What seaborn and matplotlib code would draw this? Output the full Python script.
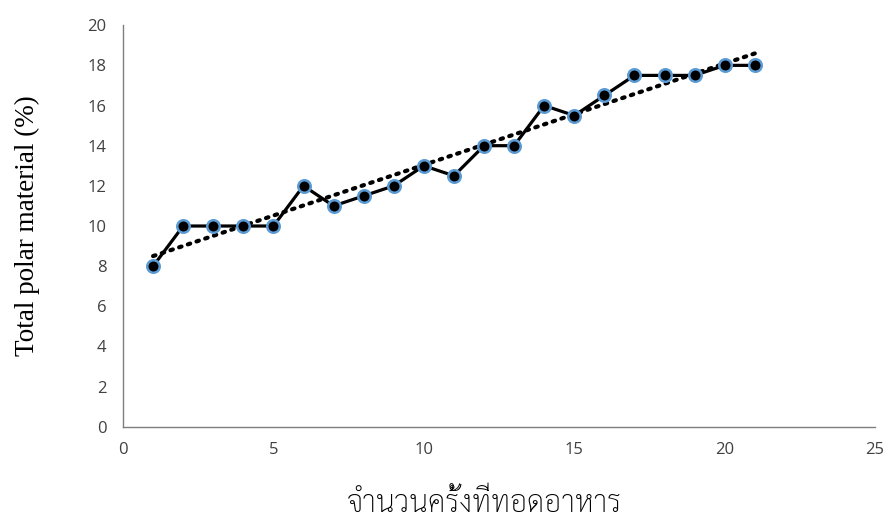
import matplotlib
matplotlib.use("Agg")
import pandas as pd
import matplotlib.pyplot as plt
import seaborn as sns

# frying times vs total polar material
fry_count = [1, 2, 3, 4, 5, 6, 7, 8, 9, 10, 11, 12, 13, 14, 15, 16, 17, 18, 19, 20, 21]
tpm = [8, 10, 10, 10, 10, 12, 11, 11.5, 12, 13, 12.5, 14, 14, 16, 15.5, 16.5, 17.5, 17.5, 17.5, 18, 18]
x_ticks = [0, 5, 10, 15, 20, 25]
y_ticks = [0, 2, 4, 6, 8, 10, 12, 14, 16, 18, 20]

df = pd.DataFrame({"count": fry_count, "tpm": tpm})

sns.set_style("white")
plt.rcParams['font.family'] = ['Open Sans', 'DejaVu Sans']

fig = plt.figure(figsize=(8.88, 5.25), dpi=100)
ax = fig.add_axes([0.1385, 0.187, 0.847, 0.765])

# dotted linear trend
sns.regplot(data=df, x="count", y="tpm", scatter=False, ci=None, ax=ax,
            line_kws={"color": "black", "linestyle": (0, (0.6, 1.6)), "linewidth": 3,
                      "dash_capstyle": "round"})
sns.lineplot(data=df, x="count", y="tpm", ax=ax, color="black", linewidth=2.3,
             marker="o", markersize=9, markerfacecolor="black",
             markeredgecolor="#5b9bd5", markeredgewidth=1.8)

ax.set_xlim(0, 25)
ax.set_ylim(0, 20)
ax.set_xticks(x_ticks)
ax.set_yticks(y_ticks)
ax.tick_params(axis="both", length=0, labelsize=12, colors="#404040")
ax.tick_params(axis="y", pad=12)
ax.tick_params(axis="x", pad=11)
for s in ["top", "right"]:
    ax.spines[s].set_visible(False)
for s in ["left", "bottom"]:
    ax.spines[s].set_color("#7f7f7f")
    ax.spines[s].set_linewidth(1)

ax.set_ylabel("Total polar material (%)", family=["Liberation Serif"], fontsize=19.5,
              color="black", labelpad=34)
ax.set_xlabel("จำนวนครั้งที่ทอดอาหาร", family=["Sarabun", "DejaVu Sans"], fontsize=21.5,
              fontweight="light", color="black", labelpad=23)
ax.xaxis.label.set_x(0.481)

fig.savefig("out.png", dpi=100)
